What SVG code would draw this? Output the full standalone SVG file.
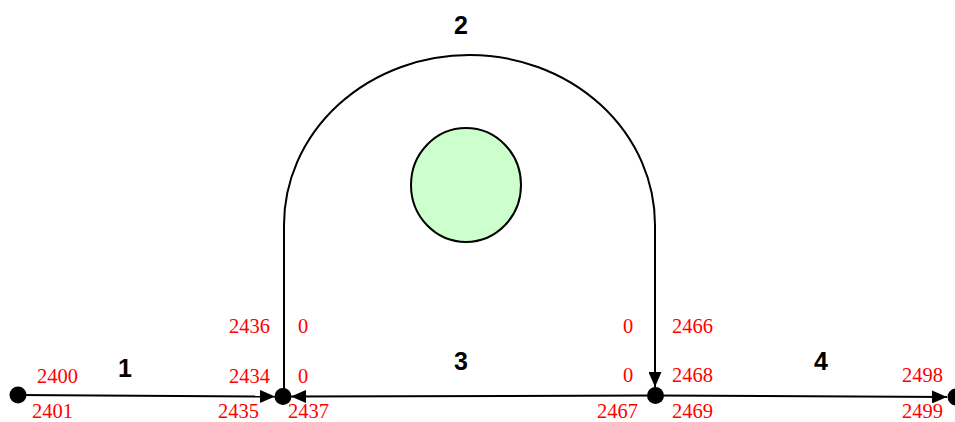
<svg xmlns="http://www.w3.org/2000/svg" width="955" height="422" viewBox="0 0 955 422">
<style>
.edge{fill:none;stroke:#000;stroke-width:2}
.node{fill:#000}
.lbl{font-family:"Liberation Serif","Times New Roman",serif;font-size:20.5px;fill:#ff0000}
.num{font-family:"Liberation Sans",Arial,sans-serif;font-size:25px;font-weight:bold;fill:#000;text-anchor:middle}
</style>
<defs>
<marker id="arr" viewBox="0 0 15 13" refX="15" refY="6.5" markerWidth="15" markerHeight="13" markerUnits="userSpaceOnUse" orient="auto">
<path d="M0,0 L15,6.5 L0,13 Z" fill="#000"/>
</marker>
</defs>
<rect width="955" height="422" fill="#fff"/>
<g id="connectors">
<path class="edge" d="M18,395 L275,396.5" marker-end="url(#arr)"/>
<path class="edge" d="M284,396 L284,225 A185.5,170 0 0 1 655,225 L655,387" marker-end="url(#arr)"/>
<path class="edge" d="M655,395.5 L291,396.5" marker-end="url(#arr)"/>
<path class="edge" d="M655,395.5 L947,397" marker-end="url(#arr)"/>
</g>
<g id="obstacle">
<ellipse cx="466" cy="185" rx="55" ry="57" fill="#ccffcc" stroke="#000" stroke-width="2"/>
</g>
<g id="n2400"><circle class="node" cx="18" cy="395" r="8.5"/></g>
<g id="n2434"><circle class="node" cx="283" cy="396.5" r="8.5"/></g>
<g id="n2467"><circle class="node" cx="655.5" cy="395.5" r="8.5"/></g>
<g id="n2498"><circle class="node" cx="956" cy="397" r="8.5"/></g>
<g id="edge-labels">
<text class="num" x="125" y="377">1</text>
<text class="num" x="461" y="34">2</text>
<text class="num" x="461" y="370">3</text>
<text class="num" x="821" y="370">4</text>
</g>
<g id="port-labels">
<text class="lbl" x="37" y="383">2400</text>
<text class="lbl" x="32" y="418">2401</text>
<text class="lbl" x="229" y="383">2434</text>
<text class="lbl" x="218" y="418">2435</text>
<text class="lbl" x="229" y="333">2436</text>
<text class="lbl" x="298" y="333">0</text>
<text class="lbl" x="298" y="383">0</text>
<text class="lbl" x="288" y="418">2437</text>
<text class="lbl" x="623" y="333">0</text>
<text class="lbl" x="672" y="333">2466</text>
<text class="lbl" x="623" y="382">0</text>
<text class="lbl" x="672" y="382">2468</text>
<text class="lbl" x="597" y="418">2467</text>
<text class="lbl" x="672" y="418">2469</text>
<text class="lbl" x="902" y="382">2498</text>
<text class="lbl" x="902" y="418">2499</text>
</g>
</svg>
